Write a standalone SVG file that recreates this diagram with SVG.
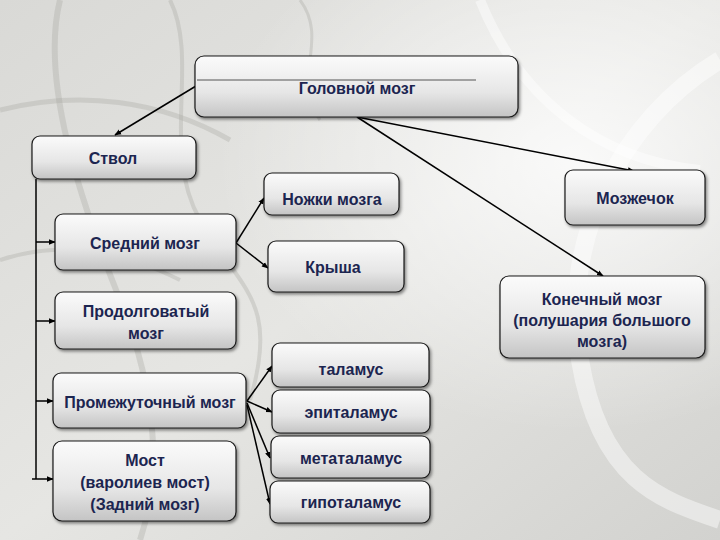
<svg xmlns="http://www.w3.org/2000/svg" width="720" height="540" viewBox="0 0 720 540">
<defs>
<linearGradient id="bg" x1="0" y1="0" x2="1" y2="1">
<stop offset="0" stop-color="#d9d9d6"/>
<stop offset="0.5" stop-color="#e6e6e3"/>
<stop offset="1" stop-color="#d2d2cf"/>
</linearGradient>
<radialGradient id="glow" cx="0.8" cy="0.3" r="0.5">
<stop offset="0" stop-color="#ffffff" stop-opacity="0.8"/>
<stop offset="1" stop-color="#ffffff" stop-opacity="0"/>
</radialGradient>
<linearGradient id="box" x1="0" y1="0" x2="0" y2="1">
<stop offset="0" stop-color="#fbfbfb"/>
<stop offset="0.6" stop-color="#e6e6e6"/>
<stop offset="1" stop-color="#c4c4c4"/>
</linearGradient>
<filter id="sh" x="-10%" y="-10%" width="130%" height="140%">
<feDropShadow dx="1.5" dy="2" stdDeviation="1.5" flood-color="#000" flood-opacity="0.45"/>
</filter>
<marker id="ar" viewBox="0 0 10 10" refX="9" refY="5" markerWidth="4.5" markerHeight="4.5" orient="auto">
<path d="M0,1 L10,5 L0,9 z" fill="#000"/>
</marker>
<style>
.b{fill:url(#box);stroke:#1a1a1a;stroke-width:1.2;filter:url(#sh)}
.t{font-family:"Liberation Sans",Arial,sans-serif;font-size:16px;font-weight:bold;fill:#1c2550;text-anchor:middle}
.c{stroke:#000;stroke-width:1.5;fill:none}
.ca{stroke:#000;stroke-width:1.5;fill:none;marker-end:url(#ar)}
.bgl{stroke:#ffffff;stroke-opacity:0.45;fill:none}
.bgd{stroke:#a8a8a4;stroke-opacity:0.35;fill:none}
</style>
</defs>
<rect width="720" height="540" fill="url(#bg)"/>
<rect width="720" height="540" fill="url(#glow)"/>
<g id="background">
<path class="bgd" stroke-width="6" d="M60,0 C40,80 80,200 120,300 S160,480 140,540"/>
<path class="bgd" stroke-width="4" d="M170,0 C200,60 160,150 200,220 S280,300 250,400"/>
<path class="bgd" stroke-width="5" d="M0,110 C80,90 160,100 230,140"/>
<path class="bgd" stroke-width="4" d="M0,260 C60,240 120,250 180,280"/>
<path class="bgl" stroke-width="18" d="M720,60 C620,120 560,240 580,360 S660,500 720,520"/>
<path class="bgl" stroke-width="10" d="M480,0 C520,100 600,160 700,170"/>
<path class="bgd" stroke-width="3" d="M300,0 C330,40 290,80 320,120"/>
</g>
<g id="connectors">
<line class="ca" x1="196" y1="86" x2="115" y2="135"/>
<line class="ca" x1="357" y1="117" x2="634" y2="171"/>
<line class="ca" x1="357" y1="117" x2="603" y2="276"/>
<polyline class="c" points="36,179 36,479"/>
<line class="ca" x1="36" y1="242" x2="55" y2="242"/>
<line class="ca" x1="36" y1="321" x2="55" y2="321"/>
<line class="ca" x1="36" y1="401" x2="53" y2="401"/>
<line class="ca" x1="32" y1="479" x2="53" y2="479"/>
<line class="ca" x1="236" y1="243" x2="264" y2="198"/>
<line class="ca" x1="236" y1="243" x2="268" y2="268"/>
<line class="ca" x1="247" y1="401" x2="272" y2="366"/>
<line class="ca" x1="247" y1="401" x2="272" y2="412"/>
<line class="ca" x1="247" y1="403" x2="270" y2="458"/>
<line class="ca" x1="247" y1="405" x2="270" y2="504"/>
</g>
<g id="n-golovnoy">
<rect class="b" x="195" y="56" width="323" height="61" rx="9"/>
<line x1="197" y1="80" x2="476" y2="80" stroke="#555" stroke-width="1"/>
<text class="t" x="357" y="94">Головной мозг</text>
</g>
<g id="n-stvol">
<rect class="b" x="32" y="136" width="164" height="43" rx="8"/>
<text class="t" x="113" y="164">Ствол</text>
</g>
<g id="n-nozhki">
<rect class="b" x="264" y="173" width="135" height="42" rx="8"/>
<text class="t" x="332" y="205">Ножки мозга</text>
</g>
<g id="n-mozzhechok">
<rect class="b" x="565" y="170" width="140" height="55" rx="8"/>
<text class="t" x="635" y="204">Мозжечок</text>
</g>
<g id="n-sredniy">
<rect class="b" x="55" y="214" width="181" height="56" rx="8"/>
<text class="t" x="145" y="249">Средний мозг</text>
</g>
<g id="n-krysha">
<rect class="b" x="268" y="241" width="136" height="51" rx="8"/>
<text class="t" x="333" y="273">Крыша</text>
</g>
<g id="n-konechny">
<rect class="b" x="500" y="276" width="205" height="82" rx="9"/>
<text class="t" x="602" y="305">Конечный мозг</text>
<text class="t" x="602" y="326">(полушария большого</text>
<text class="t" x="602" y="347">мозга)</text>
</g>
<g id="n-prodolgovaty">
<rect class="b" x="55" y="292" width="181" height="57" rx="8"/>
<text class="t" x="146" y="317">Продолговатый</text>
<text class="t" x="146" y="339">мозг</text>
</g>
<g id="n-promezhutochny">
<rect class="b" x="53" y="373" width="193" height="55" rx="8"/>
<text class="t" x="150" y="408">Промежуточный мозг</text>
</g>
<g id="n-most">
<rect class="b" x="53" y="441" width="183" height="80" rx="9"/>
<text class="t" x="145" y="466">Мост</text>
<text class="t" x="145" y="488">(варолиев мост)</text>
<text class="t" x="145" y="510">(Задний мозг)</text>
</g>
<g id="n-talamus">
<rect class="b" x="272" y="343" width="157" height="44" rx="8"/>
<text class="t" x="351" y="375">таламус</text>
</g>
<g id="n-epitalamus">
<rect class="b" x="272" y="390" width="158" height="43" rx="8"/>
<text class="t" x="351" y="418">эпиталамус</text>
</g>
<g id="n-metatalamus">
<rect class="b" x="271" y="436" width="159" height="42" rx="8"/>
<text class="t" x="351" y="464">метаталамус</text>
</g>
<g id="n-gipotalamus">
<rect class="b" x="270" y="481" width="160" height="42" rx="8"/>
<text class="t" x="351" y="508">гипоталамус</text>
</g>
</svg>
